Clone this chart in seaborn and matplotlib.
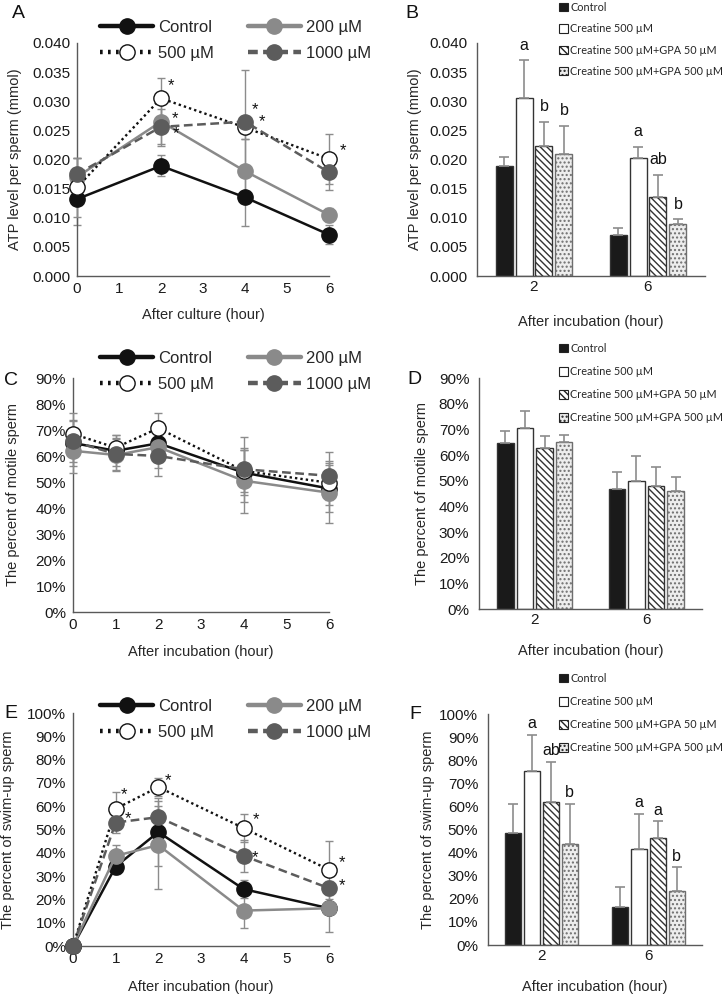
import numpy as np
import pandas as pd
import matplotlib
matplotlib.use("Agg")
import matplotlib.pyplot as plt
from matplotlib.lines import Line2D
from matplotlib.patches import Patch
from matplotlib.ticker import PercentFormatter, FormatStrFormatter, FixedLocator, NullFormatter
import seaborn as sns

# ---------------- DATA ----------------
series_names = ["Control", "200 µM", "500 µM", "1000 µM"]

hours_A = [0, 2, 4, 6]
A_control = [0.0132, 0.0189, 0.0135, 0.0071]
A_200 = [0.0170, 0.0265, 0.0180, 0.0105]
A_500 = [0.0152, 0.0305, 0.0255, 0.0201]
A_1000 = [0.0175, 0.0256, 0.0265, 0.0178]
A_control_err = [0.0045, 0.0018, 0.0050, 0.0016]
A_200_err = [0.0032, 0.0042, 0.0055, 0.0012]
A_500_err = [0.0050, 0.0035, 0.0020, 0.0043]
A_1000_err = [0.0027, 0.0030, 0.0089, 0.0031]
A_stars = [("500 µM", 2), ("200 µM", 2), ("1000 µM", 2), ("1000 µM", 4), ("500 µM", 4), ("500 µM", 6)]

hours_C = [0, 1, 2, 4, 6]
C_control = [65.0, 62.0, 64.9, 53.6, 47.5]
C_200 = [62.0, 60.4, 63.4, 50.5, 45.9]
C_500 = [68.5, 63.2, 70.7, 54.3, 49.7]
C_1000 = [65.6, 60.8, 60.0, 54.9, 52.4]
C_control_err = [9.0, 6.0, 6.0, 8.7, 9.0]
C_200_err = [8.5, 6.0, 8.0, 12.5, 11.5]
C_500_err = [8.0, 5.0, 6.0, 8.0, 8.5]
C_1000_err = [8.0, 6.0, 7.6, 12.5, 9.2]
C_stars = []

hours_E = [0, 1, 2, 4, 6]
E_control = [0.0, 34.1, 48.9, 24.4, 16.2]
E_200 = [0.0, 38.7, 43.3, 15.2, 16.2]
E_500 = [0.0, 58.9, 68.2, 50.6, 32.7]
E_1000 = [0.0, 53.0, 55.3, 38.7, 24.8]
E_control_err = [0.0, 3.0, 14.5, 4.0, 2.0]
E_200_err = [0.0, 4.7, 19.0, 7.5, 10.0]
E_500_err = [0.0, 7.4, 4.0, 6.1, 12.4]
E_1000_err = [0.0, 4.6, 5.0, 7.0, 3.0]
E_stars = [("500 µM", 1), ("1000 µM", 1), ("500 µM", 2), ("500 µM", 4), ("1000 µM", 4), ("500 µM", 6), ("1000 µM", 6)]

bar_groups = ["Control", "Creatine 500 µM", "Creatine 500 µM+GPA 50 µM", "Creatine 500 µM+GPA 500 µM"]
bar_times = ["2", "6"]

B_values = [[0.0189, 0.0070], [0.0306, 0.0202], [0.0223, 0.0135], [0.0210, 0.0090]]
B_errors = [[0.0016, 0.0013], [0.0064, 0.0019], [0.0041, 0.0039], [0.0048, 0.0007]]
B_letters = [["", ""], ["a", "a"], ["b", "ab"], ["b", "b"]]

D_values = [[64.5, 46.7], [70.6, 49.9], [62.9, 47.9], [65.0, 45.9]]
D_errors = [[4.9, 6.5], [6.6, 9.9], [4.5, 7.4], [2.7, 5.6]]
D_letters = [["", ""], ["", ""], ["", ""], ["", ""]]

F_values = [[48.6, 16.4], [75.4, 41.7], [61.9, 46.5], [43.6, 23.2]]
F_errors = [[12.5, 8.6], [15.5, 15.2], [17.4, 7.0], [17.5, 10.5]]
F_letters = [["", ""], ["a", "a"], ["ab", "a"], ["b", "b"]]

# ---------------- STYLE ----------------
sns.set_theme(style="white")
plt.rcParams["font.family"] = ["Liberation Sans", "DejaVu Sans"]
AX_COL = "#595959"
ERR_COL = "#8c8c8c"

line_styles = {
    "Control": dict(color="#111111", linestyle="-", linewidth=1.8, marker="o", markersize=11,
                    markerfacecolor="#111111", markeredgecolor="#111111", markeredgewidth=1),
    "200 µM": dict(color="#8a8a8a", linestyle="-", linewidth=1.8, marker="o", markersize=11,
                   markerfacecolor="#8a8a8a", markeredgecolor="#8a8a8a", markeredgewidth=1),
    "500 µM": dict(color="#111111", linestyle=(0, (1, 1.3)), linewidth=1.7, marker="o", markersize=11,
                   markerfacecolor="white", markeredgecolor="#111111", markeredgewidth=1),
    "1000 µM": dict(color="#5c5c5c", linestyle=(0, (3.5, 1.8)), linewidth=1.8, marker="o", markersize=11,
                    markerfacecolor="#5c5c5c", markeredgecolor="#5c5c5c", markeredgewidth=1),
}
star_offsets = {
    ("A", "500 µM", 2): (7, 9), ("A", "200 µM", 2): (10, 2), ("A", "1000 µM", 2): (11, -5),
    ("A", "1000 µM", 4): (7, 9), ("A", "500 µM", 4): (12, 4), ("A", "500 µM", 6): (10, 6),
    ("E", "500 µM", 1): (6, 10), ("E", "1000 µM", 1): (9, 3), ("E", "500 µM", 2): (7, 5),
    ("E", "500 µM", 4): (9, 6), ("E", "1000 µM", 4): (8, -1), ("E", "500 µM", 6): (9, 5),
    ("E", "1000 µM", 6): (9, 2),
}
bar_styles = {
    "Control": dict(face="#1a1a1a", hatch=None, edge="#333333"),
    "Creatine 500 µM": dict(face="white", hatch=None, edge="#333333"),
    "Creatine 500 µM+GPA 50 µM": dict(face="white", hatch="\\\\\\\\\\", edge="#333333"),
    "Creatine 500 µM+GPA 500 µM": dict(face="#ededed", hatch="....", edge="#6e6e6e"),
}

W, H = 723, 996
fig = plt.figure(figsize=(W / 100, H / 100), dpi=100)
fig.patch.set_facecolor("white")


def px_axes(l, r, t, b):
    return fig.add_axes([l / W, 1 - b / H, (r - l) / W, (b - t) / H])


def style_axes(ax):
    sns.despine(ax=ax)
    for s in ("left", "bottom"):
        ax.spines[s].set_color(AX_COL)
        ax.spines[s].set_linewidth(1.0)
    ax.tick_params(axis="both", which="both", direction="out", color=AX_COL, width=1,
                   labelsize=11, labelcolor="#1a1a1a")
    ax.tick_params(axis="both", which="major", length=4)
    ax.tick_params(axis="y", which="major", pad=1)
    ax.tick_params(axis="x", which="major", pad=0.5)
    ax.set_facecolor("white")
    ax.grid(False)


def line_panel(ax, key, hours, vals, errs, stars, ymax, ystep, yfmt, xlabel, ylabel,
               ylab_x, xlab_y, legend_top):
    for i, name in enumerate(series_names):
        ax.errorbar(hours, vals[name], yerr=errs[name], fmt="none", ecolor=ERR_COL,
                    elinewidth=1, capsize=3, capthick=1, zorder=2 + i, clip_on=False)
    for i, name in enumerate(series_names):
        sns.lineplot(x=hours, y=vals[name], ax=ax, zorder=6 + i, clip_on=False,
                     **line_styles[name])
    for name, h in stars:
        y = vals[name][hours.index(h)]
        ax.annotate("*", (h, y), xytext=star_offsets[(key, name, h)], textcoords="offset points",
                    ha="center", va="center", fontsize=12, color="#111111", zorder=20)
    ax.set_xlim(0, 6)
    ax.set_ylim(0, ymax)
    ax.set_xticks(range(0, 7))
    ax.set_yticks(np.arange(0, ymax + ystep / 2, ystep))
    ax.yaxis.set_major_formatter(yfmt)
    style_axes(ax)
    ax.set_xlabel(xlabel, fontsize=10.5)
    ax.set_ylabel(ylabel, fontsize=10.5)
    ax.yaxis.set_label_coords(ylab_x, 0.5)
    ax.xaxis.set_label_coords(0.5, xlab_y)
    handles = []
    for name in ["Control", "500 µM", "200 µM", "1000 µM"]:
        st = dict(line_styles[name])
        st["linewidth"] = 3.2
        if name == "500 µM":
            st["linestyle"] = (0, (0.6, 1.2))
        if name == "1000 µM":
            st["linestyle"] = (0, (2.2, 1.2))
        handles.append(Line2D([], [], **st))
    fig.legend(handles=handles, labels=["Control", "500 µM", "200 µM", "1000 µM"],
               loc="upper left", bbox_to_anchor=(100 / W, 1 - legend_top / H),
               bbox_transform=fig.transFigure, ncol=2, frameon=False, fontsize=12,
               handlelength=3.2, handletextpad=0.3, columnspacing=2.0, labelspacing=0.66,
               borderpad=0, borderaxespad=0, markerscale=1.0)


def bar_panel(ax, values, errors, letters, ymax, ystep, yfmt, ylabel, ylab_x, xlab_y,
              legend_top, legend_spacing, letter_off):
    df = pd.DataFrame({
        "time": [t for g in bar_groups for t in bar_times],
        "group": [g for g in bar_groups for t in bar_times],
        "value": [v for row in values for v in row],
    })
    pal = {g: bar_styles[g]["face"] for g in bar_groups}
    sns.barplot(data=df, x="time", y="value", hue="group", order=bar_times, hue_order=bar_groups,
                palette=pal, width=0.7, gap=0.15, errorbar=None, legend=False, ax=ax,
                linewidth=1, edgecolor="#333333", saturation=1)
    bar_conts = list(ax.containers)
    for gi, cont in enumerate(bar_conts):
        g = bar_groups[gi]
        xs, ys = [], []
        for bar in cont:
            bar.set_edgecolor(bar_styles[g]["edge"])
            if bar_styles[g]["hatch"]:
                bar.set_hatch(bar_styles[g]["hatch"])
            xs.append(bar.get_x() + bar.get_width() / 2)
            ys.append(bar.get_height())
        ax.errorbar(xs, ys, yerr=[np.zeros(len(ys)), errors[gi]], fmt="none", ecolor=ERR_COL,
                    elinewidth=1.2, capsize=3.5, capthick=1.2, zorder=1)
        for x, y, e, lab in zip(xs, ys, errors[gi], letters[gi]):
            if lab:
                ax.annotate(lab, (x, y + e), xytext=(0, letter_off), textcoords="offset points",
                            ha="center", va="center", fontsize=11.5, color="#111111")
    ax.set_xlim(-0.5, 1.5)
    ax.set_ylim(0, ymax)
    ax.set_yticks(np.arange(0, ymax + ystep / 2, ystep))
    ax.yaxis.set_major_formatter(yfmt)
    style_axes(ax)
    ax.xaxis.set_minor_locator(FixedLocator([-0.5, 0.5, 1.5]))
    ax.xaxis.set_minor_formatter(NullFormatter())
    ax.tick_params(axis="x", which="major", length=0, pad=3)
    ax.tick_params(axis="x", which="minor", length=5)
    ax.tick_params(axis="y", which="major", pad=3)
    ax.set_xlabel("After incubation (hour)", fontsize=10.5)
    ax.set_ylabel(ylabel, fontsize=10.5)
    ax.yaxis.set_label_coords(ylab_x, 0.5)
    ax.xaxis.set_label_coords(0.5, xlab_y)
    handles = [Patch(facecolor=bar_styles[g]["face"], edgecolor="#222222",
                     hatch=bar_styles[g]["hatch"], linewidth=0.8) for g in bar_groups]
    fig.legend(handles=handles, labels=bar_groups, loc="upper left",
               bbox_to_anchor=(559 / W, 1 - legend_top / H), bbox_transform=fig.transFigure,
               frameon=False, prop={"family": ["Lato", "DejaVu Sans"], "size": 7.8},
               handlelength=0.8, handleheight=0.8, handletextpad=0.22,
               labelspacing=legend_spacing, borderpad=0, borderaxespad=0)


pct = PercentFormatter(xmax=100, decimals=0)

# Panel A
axA = px_axes(77, 329, 43, 276)
line_panel(axA, "A", hours_A,
           {"Control": A_control, "200 µM": A_200, "500 µM": A_500, "1000 µM": A_1000},
           {"Control": A_control_err, "200 µM": A_200_err, "500 µM": A_500_err, "1000 µM": A_1000_err},
           A_stars, 0.040, 0.005, FormatStrFormatter("%.3f"), "After culture (hour)",
           "ATP level per sperm (mmol)", -0.218, -0.137, 20)

# Panel B
axB = px_axes(477, 705, 43, 276)
bar_panel(axB, B_values, B_errors, B_letters, 0.040, 0.005, FormatStrFormatter("%.3f"),
          "ATP level per sperm (mmol)", -0.241, -0.167, 2, 0.95, 11)

# Panel C
axC = px_axes(73, 329, 378, 612)
line_panel(axC, "C", hours_C,
           {"Control": C_control, "200 µM": C_200, "500 µM": C_500, "1000 µM": C_1000},
           {"Control": C_control_err, "200 µM": C_200_err, "500 µM": C_500_err, "1000 µM": C_1000_err},
           C_stars, 90, 10, pct, "After incubation (hour)", "The percent of motile sperm",
           -0.207, -0.141, 351)

# Panel D
axD = px_axes(479, 702, 378, 609)
bar_panel(axD, D_values, D_errors, D_letters, 90, 10, pct, "The percent of motile sperm",
          -0.224, -0.152, 343, 1.12, 8)

# Panel E
axE = px_axes(73, 329, 713, 946)
line_panel(axE, "E", hours_E,
           {"Control": E_control, "200 µM": E_200, "500 µM": E_500, "1000 µM": E_1000},
           {"Control": E_control_err, "200 µM": E_200_err, "500 µM": E_500_err, "1000 µM": E_1000_err},
           E_stars, 100, 10, pct, "After incubation (hour)", "The percent of swim-up sperm",
           -0.227, -0.146, 699)

# Panel F
axF = px_axes(488, 702, 714, 945)
bar_panel(axF, F_values, F_errors, F_letters, 100, 10, pct, "The percent of swim-up sperm",
          -0.248, -0.152, 673, 1.12, 8)

for lab, x, y in [("A", 18, 13), ("B", 412, 13), ("C", 11, 380), ("D", 414, 379),
                  ("E", 11, 713), ("F", 415, 714)]:
    fig.text(x / W, 1 - y / H, lab, fontsize=14, ha="center", va="center", color="#111111")

fig.savefig("out.png", dpi=100, facecolor="white")
